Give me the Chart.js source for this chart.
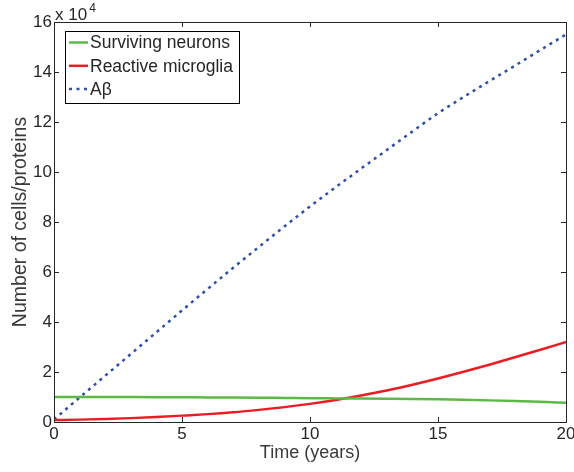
<!DOCTYPE html>
<html>
<head>
<meta charset="utf-8">
<script src="https://cdn.jsdelivr.net/npm/chart.js@4"></script>
<style>
  html, body { margin: 0; padding: 0; background: #fff; }
  #wrap { width: 574px; height: 472px; }
</style>
</head>
<body>
<div id="wrap"><canvas id="plot" width="574" height="472"></canvas></div>
<script>
// time in years
const years = [0, 1, 2, 3, 4, 5, 6, 7, 8, 9, 10, 11, 12, 13, 14, 15, 16, 17, 18, 19, 20];

// cell / protein counts per year
const neurons = [10000, 10000, 9990, 9970, 9950, 9900, 9850, 9800, 9720, 9620, 9520, 9450, 9380, 9300, 9200, 9060, 8880, 8650, 8370, 8060, 7700];
const microglia = [800, 950, 1200, 1550, 2000, 2550, 3150, 3900, 4850, 5950, 7250, 8800, 10600, 12600, 14900, 17400, 20100, 22900, 25900, 28900, 32000];
const abeta = [1000, 9800, 18500, 27200, 35900, 44600, 53200, 61700, 70000, 78200, 86200, 93900, 101400, 108800, 116200, 123500, 130000, 136300, 142500, 148800, 155000];

const seriesNames = ['Surviving neurons', 'Reactive microglia', 'A\u03b2'];

const xTicks = [0, 5, 10, 15, 20];
const yTicks = [0, 2, 4, 6, 8, 10, 12, 14, 16]; // x 10^4
const yExponent = 4;

const FONT = '"Liberation Sans", Arial, Helvetica, sans-serif';
const INK = '#262626';

const toPoints = vals => years.map((t, i) => ({ x: t, y: vals[i] }));

// box around the axes + inward tick marks on all four sides
const frameBox = {
    id: 'frameBox',
    afterDatasetsDraw(chart) {
        const { ctx, chartArea: a, scales } = chart;
        const len = 5;
        ctx.save();
        ctx.strokeStyle = INK;
        ctx.lineWidth = 1;
        ctx.beginPath();
        xTicks.forEach(v => {
            const px = Math.round(scales.x.getPixelForValue(v)) + 0.5;
            ctx.moveTo(px, a.bottom); ctx.lineTo(px, a.bottom - len);
            ctx.moveTo(px, a.top); ctx.lineTo(px, a.top + len);
        });
        yTicks.forEach(v => {
            const py = Math.round(scales.y.getPixelForValue(v * Math.pow(10, yExponent))) + 0.5;
            ctx.moveTo(a.left, py); ctx.lineTo(a.left + len, py);
            ctx.moveTo(a.right, py); ctx.lineTo(a.right - len, py);
        });
        ctx.stroke();
        ctx.strokeRect(Math.round(a.left) + 0.5, Math.round(a.top) + 0.5,
            Math.round(a.right - a.left), Math.round(a.bottom - a.top));

        // "x 10^4" above the y axis
        ctx.fillStyle = INK;
        ctx.textBaseline = 'alphabetic';
        ctx.textAlign = 'left';
        ctx.font = '17px ' + FONT;
        ctx.fillText('x 10', a.left + 1, a.top - 2);
        const w = ctx.measureText('x 10').width;
        ctx.font = '12px ' + FONT;
        ctx.fillText(String(yExponent), a.left + 3 + w, a.top - 10);
        ctx.restore();
    }
};

// legend box in the upper left of the axes
const boxLegend = {
    id: 'boxLegend',
    afterDraw(chart) {
        const { ctx, chartArea: a } = chart;
        const x0 = a.left + 11, y0 = a.top + 8.5;
        const w = 174, h = 72, row = 23.3;
        ctx.save();
        ctx.fillStyle = '#fff';
        ctx.fillRect(x0, y0, w, h);
        ctx.strokeStyle = '#000';
        ctx.lineWidth = 1;
        ctx.strokeRect(Math.round(x0) + 0.5, Math.round(y0) + 0.5, w, h);
        ctx.font = '17.5px ' + FONT;
        ctx.textBaseline = 'middle';
        ctx.textAlign = 'left';
        chart.data.datasets.forEach((ds, i) => {
            const y = y0 + 12 + i * row;
            ctx.strokeStyle = ds.borderColor;
            ctx.lineWidth = ds.borderWidth;
            ctx.setLineDash(ds.borderDash || []);
            ctx.beginPath();
            ctx.moveTo(x0 + 4, y);
            ctx.lineTo(x0 + 23, y);
            ctx.stroke();
            ctx.setLineDash([]);
            ctx.fillStyle = INK;
            ctx.fillText(ds.label, x0 + 25, y + 1);
        });
        ctx.restore();
    }
};

new Chart(document.getElementById('plot'), {
    type: 'line',
    data: {
        datasets: [
            {
                label: seriesNames[0],
                data: toPoints(neurons),
                borderColor: '#5db946',
                borderWidth: 2.5,
                cubicInterpolationMode: 'monotone',
                pointRadius: 0
            },
            {
                label: seriesNames[1],
                data: toPoints(microglia),
                borderColor: '#ec1c24',
                borderWidth: 2.5,
                cubicInterpolationMode: 'monotone',
                pointRadius: 0
            },
            {
                label: seriesNames[2],
                data: toPoints(abeta),
                borderColor: '#2f4fa8',
                borderWidth: 2.5,
                borderDash: [3, 4.5],
                cubicInterpolationMode: 'monotone',
                pointRadius: 0
            }
        ]
    },
    options: {
        responsive: false,
        devicePixelRatio: 1,
        animation: false,
        layout: { padding: { top: 22, right: 8, left: 0, bottom: 0 } },
        plugins: {
            legend: { display: false },
            tooltip: { enabled: false }
        },
        scales: {
            x: {
                type: 'linear',
                min: 0,
                max: 20,
                afterFit: s => {
                    s.height = 50;
                    // let the end labels hang over the edges
                    s.paddingLeft = 0;
                    s.paddingRight = 0;
                },
                afterBuildTicks: s => { s.ticks = xTicks.map(v => ({ value: v })); },
                grid: { display: false, drawTicks: false },
                border: { display: false },
                ticks: { color: INK, padding: 2, font: { family: FONT, size: 17 }, maxRotation: 0 },
                title: {
                    display: true,
                    text: 'Time (years)',
                    color: '#3a3a3a',
                    font: { family: FONT, size: 18 },
                    padding: { top: 0, bottom: 8 }
                }
            },
            y: {
                type: 'linear',
                min: 0,
                max: 16 * Math.pow(10, yExponent),
                afterFit: s => { s.width = 54; },
                afterBuildTicks: s => { s.ticks = yTicks.map(v => ({ value: v * Math.pow(10, yExponent) })); },
                grid: { display: false, drawTicks: false },
                border: { display: false },
                ticks: {
                    color: INK,
                    padding: 2,
                    font: { family: FONT, size: 17 },
                    callback: v => String(v / Math.pow(10, yExponent))
                },
                title: {
                    display: true,
                    text: 'Number of cells/proteins',
                    color: '#3a3a3a',
                    font: { family: FONT, size: 19.5 },
                    padding: { top: 9, bottom: 0 }
                }
            }
        }
    },
    plugins: [frameBox, boxLegend]
});
</script>
</body>
</html>
